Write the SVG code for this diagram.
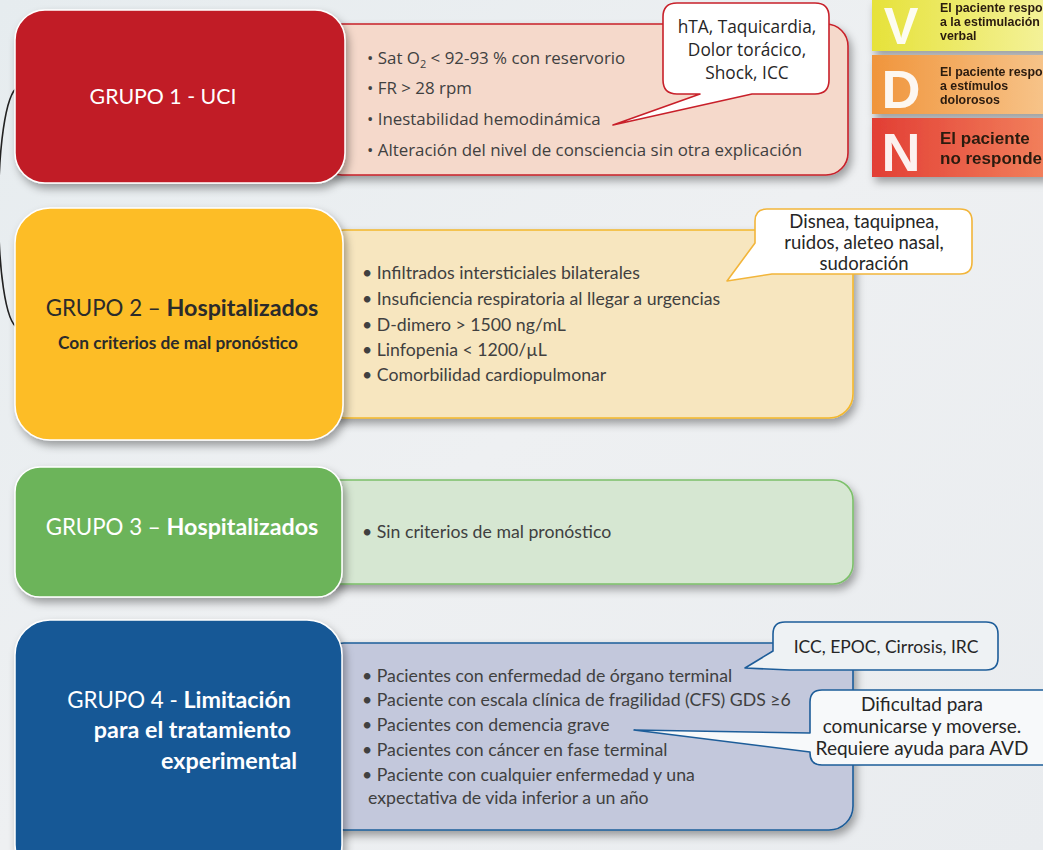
<svg xmlns="http://www.w3.org/2000/svg" width="1043" height="850" viewBox="0 0 1043 850">
<defs>
<linearGradient id="bg" x1="0" y1="0" x2="1" y2="1">
<stop offset="0" stop-color="#e6ecef"/><stop offset="0.5" stop-color="#eef0f2"/><stop offset="1" stop-color="#e9ecef"/>
</linearGradient>
<linearGradient id="gv" x1="0" x2="1"><stop offset="0" stop-color="#e6e23a"/><stop offset="1" stop-color="#f4f29a"/></linearGradient>
<linearGradient id="gd" x1="0" x2="1"><stop offset="0" stop-color="#f0953c"/><stop offset="1" stop-color="#f7c48a"/></linearGradient>
<linearGradient id="gn" x1="0" x2="1"><stop offset="0" stop-color="#e23e34"/><stop offset="1" stop-color="#f2805c"/></linearGradient>
<filter id="sh" x="-10%" y="-10%" width="125%" height="130%">
<feDropShadow dx="3" dy="5" stdDeviation="4" flood-color="#000" flood-opacity="0.35"/>
</filter>
<style>
.lbl{font-family:Lato,"Liberation Sans",sans-serif;font-size:22.3px}
.b{font-weight:bold;font-size:23.3px}
.bul{font-family:Lato,"Liberation Sans",sans-serif;font-size:17.7px;fill:#404040}
.bul1{font-family:"Open Sans","Liberation Sans",sans-serif;font-size:16.9px;fill:#404040}
.co{font-family:Lato,"Liberation Sans",sans-serif;font-size:18.5px;fill:#262626;text-anchor:middle}
.avd{font-family:"Liberation Sans",Arial,sans-serif;font-weight:bold;fill:#2a1a10}
.let{font-family:"Liberation Sans",Arial,sans-serif;font-weight:bold;fill:#fff;opacity:0.92;text-anchor:middle}
</style>
</defs>
<rect width="1043" height="850" fill="url(#bg)"/>

<g id="connectors">
<path d="M 18,87 C -8,100 -8,318 18,328" fill="none" stroke="#222" stroke-width="1.6"/>
</g>

<g id="avdn" filter="url(#sh)">
<rect x="872" y="0" width="175" height="51" fill="url(#gv)"/>
<rect x="872" y="55" width="175" height="59" fill="url(#gd)"/>
<rect x="872" y="118" width="175" height="59" fill="url(#gn)"/>
<text class="let" x="901" y="44" font-size="52">V</text>
<text class="let" x="901" y="108" font-size="54">D</text>
<text class="let" x="901" y="171" font-size="54">N</text>
<text class="avd" font-size="12.4"><tspan x="940" y="12">El paciente responde</tspan><tspan x="940" y="26">a la estimulación</tspan><tspan x="940" y="40">verbal</tspan></text>
<text class="avd" font-size="12.4"><tspan x="940" y="76">El paciente responde</tspan><tspan x="940" y="90">a estímulos</tspan><tspan x="940" y="104">dolorosos</tspan></text>
<text class="avd" font-size="17"><tspan x="940" y="144">El paciente</tspan><tspan x="940" y="164">no responde</tspan></text>
</g>

<g id="grupo1">
<rect x="320" y="24" width="528" height="151" rx="22" fill="#f5d9cb" stroke="#c8202a" stroke-width="1.6" filter="url(#sh)"/>
<rect x="15" y="10" width="330" height="173" rx="30" fill="#c11f26" stroke="#fff" stroke-width="1.5" filter="url(#sh)"/>
<text x="163" y="104" fill="#fff" text-anchor="middle" style="font-family:Lato,'Liberation Sans',sans-serif;font-size:21.3px">GRUPO 1 - UCI</text>
<text class="bul1"><tspan x="367" y="64">• Sat O</tspan><tspan font-size="11" dy="4">2</tspan><tspan dy="-4"> &lt; 92-93 % con reservorio</tspan></text>
<text class="bul1" x="367" y="94">• FR &gt; 28 rpm</text>
<text class="bul1" x="367" y="125">• Inestabilidad hemodinámica</text>
<text class="bul1" x="367" y="156">• Alteración del nivel de consciencia sin otra explicación</text>
</g>

<g id="callout1">
<path d="M 677,3 H 815 Q 829,3 829,17 V 80 Q 829,94 815,94 H 752 L 613,125 L 700,94 H 677 Q 663,94 663,80 V 17 Q 663,3 677,3 Z" fill="#fff" stroke="#c8202a" stroke-width="1.6" stroke-linejoin="round"/>
<text class="co" style="font-family:'Open Sans','Liberation Sans',sans-serif;font-size:17.3px"><tspan x="747" y="33">hTA, Taquicardia,</tspan><tspan x="747" y="56">Dolor torácico,</tspan><tspan x="747" y="79">Shock, ICC</tspan></text>
</g>

<g id="grupo2">
<rect x="320" y="230" width="533" height="188" rx="24" fill="#f7e6bf" stroke="#f4b82c" stroke-width="1.6" filter="url(#sh)"/>
<rect x="15" y="208" width="328" height="232" rx="35" fill="#fdbd27" stroke="#fff" stroke-width="1.5" filter="url(#sh)"/>
<text class="lbl" x="182" y="316" fill="#2b2b2b" text-anchor="middle">GRUPO 2 – <tspan class="b">Hospitalizados</tspan></text>
<text x="178" y="349" fill="#2b2b2b" text-anchor="middle" style="font-family:Lato,'Liberation Sans',sans-serif;font-size:17.3px;font-weight:bold">Con criterios de mal pronóstico</text>
<text class="bul"><tspan x="362" y="279">• Infiltrados intersticiales bilaterales</tspan><tspan x="362" y="305">• Insuficiencia respiratoria al llegar a urgencias</tspan><tspan x="362" y="331">• D-dimero &gt; 1500 ng/mL</tspan><tspan x="362" y="356">• Linfopenia &lt; 1200/µL</tspan><tspan x="362" y="381">• Comorbilidad cardiopulmonar</tspan></text>
</g>

<g id="callout2">
<path d="M 767,209 H 960 Q 972,209 972,221 V 262 Q 972,274 960,274 H 772 L 727,281 L 755,243 V 221 Q 755,209 767,209 Z" fill="#fff" stroke="#f2b53a" stroke-width="1.6" stroke-linejoin="round"/>
<text class="co"><tspan x="864" y="228">Disnea, taquipnea,</tspan><tspan x="864" y="249">ruidos, aleteo nasal,</tspan><tspan x="864" y="270">sudoración</tspan></text>
</g>

<g id="grupo3">
<rect x="320" y="480" width="533" height="104" rx="20" fill="#d6e7d2" stroke="#7cc06a" stroke-width="1.6" filter="url(#sh)"/>
<rect x="15" y="467" width="327" height="130" rx="25" fill="#6cb45a" stroke="#fff" stroke-width="1.5" filter="url(#sh)"/>
<text class="lbl" x="182" y="535" fill="#fff" text-anchor="middle">GRUPO 3 – <tspan class="b">Hospitalizados</tspan></text>
<text class="bul" x="362" y="538">• Sin criterios de mal pronóstico</text>
</g>

<g id="grupo4">
<rect x="320" y="643" width="533" height="187" rx="24" fill="#c3c8dc" stroke="#1d5d99" stroke-width="1.6" filter="url(#sh)"/>
<rect x="15" y="620" width="327" height="260" rx="35" fill="#135896" stroke="#fff" stroke-width="1.5" filter="url(#sh)"/>
<text class="lbl" fill="#fff" text-anchor="end"><tspan x="291" y="708">GRUPO 4 -  <tspan class="b">Limitación</tspan></tspan><tspan class="b" x="291" y="738">para el tratamiento</tspan><tspan class="b" x="297" y="769">experimental</tspan></text>
<text class="bul"><tspan x="362" y="682">• Pacientes con enfermedad de órgano terminal</tspan><tspan x="362" y="706">• Paciente con escala clínica de fragilidad (CFS) GDS ≥6</tspan><tspan x="362" y="731">• Pacientes con demencia grave</tspan><tspan x="362" y="756">• Pacientes con cáncer en fase terminal</tspan><tspan x="362" y="781">• Paciente con cualquier enfermedad y una</tspan><tspan x="368" y="804">expectativa de vida inferior a un año</tspan></text>
</g>

<g id="callout3">
<path d="M 785,622 H 986 Q 998,622 998,634 V 658 Q 998,670 986,670 H 790 L 745,668 L 773,651 V 634 Q 773,622 785,622 Z" fill="#eef2f4" stroke="#1d5d99" stroke-width="1.6" stroke-linejoin="round"/>
<text class="co" x="886" y="653" style="font-size:17.5px">ICC, EPOC, Cirrosis, IRC</text>
</g>

<g id="callout4">
<path d="M 822,690 H 1060 V 765 H 822 Q 810,765 810,753 V 752 L 634,730 L 810,733 V 702 Q 810,690 822,690 Z" fill="#f7f9fa" stroke="#1d5d99" stroke-width="1.6" stroke-linejoin="round"/>
<text class="co" style="font-size:19px"><tspan x="922" y="711">Dificultad para</tspan><tspan x="922" y="733">comunicarse y moverse.</tspan><tspan x="922" y="755">Requiere ayuda para AVD</tspan></text>
</g>
</svg>
